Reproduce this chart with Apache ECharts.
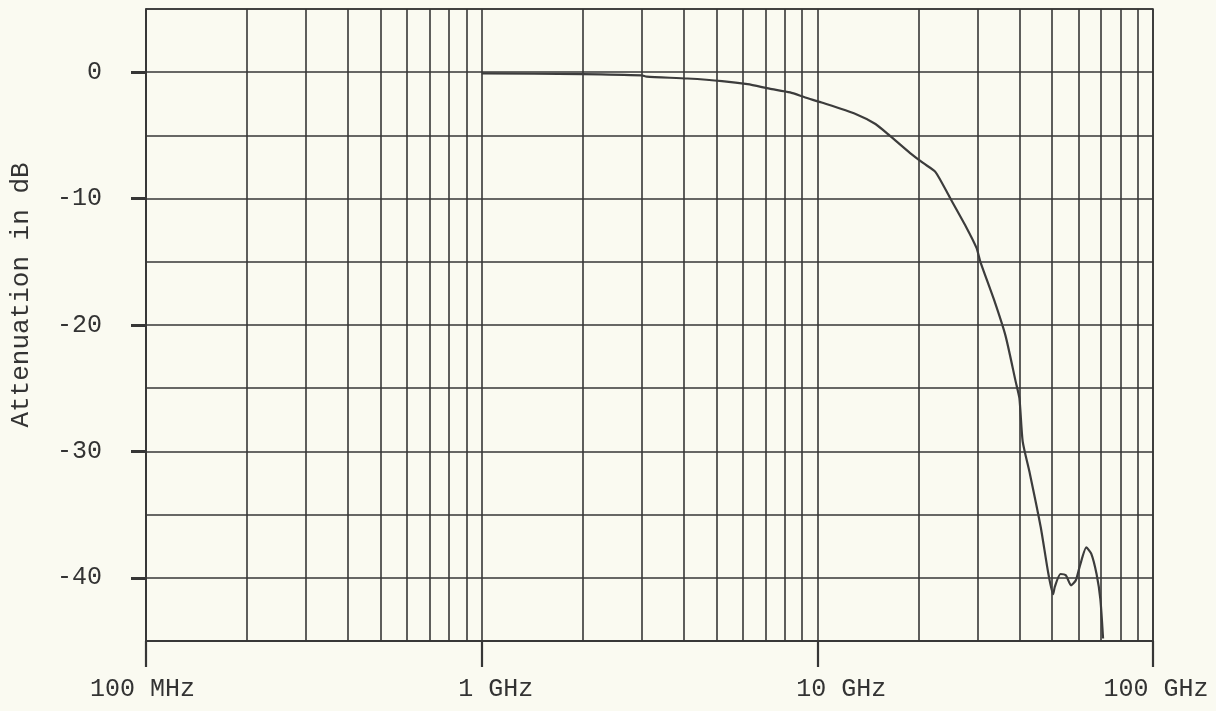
<!DOCTYPE html>
<html>
<head>
<meta charset="utf-8">
<script src="https://cdn.jsdelivr.net/npm/echarts@6/dist/echarts.min.js"></script>
<style>
html,body{margin:0;padding:0;background:#fafaf1;}
#chart{width:1216px;height:711px;}
</style>
</head>
<body>
<div id="chart"></div>
<script>
// ---- data (frequency in GHz, attenuation in dB) ----
const freqGHz = [1, 2, 3, 3.1, 4.1, 5.2, 6.2, 7.2, 8.3, 9.2, 10.3, 13.0, 14.9, 16.4, 18.9, 20.7, 22.5, 24.8, 27.7, 29.8, 30.6, 33.6, 36.4, 39.0, 40.0, 40.9, 43.0, 46.3, 48.8, 50.4, 51.0, 53, 55, 57, 58.9, 60.5, 63.3, 65.5, 67.9, 69.7, 71.0];
const attenDB = [-0.1, -0.15, -0.25, -0.35, -0.5, -0.7, -0.95, -1.3, -1.6, -2.0, -2.4, -3.3, -4.1, -5.0, -6.4, -7.2, -7.9, -9.9, -12.2, -13.9, -15.0, -18.0, -20.9, -24.5, -25.8, -29.2, -31.8, -36.0, -39.7, -41.3, -40.7, -39.7, -39.8, -40.6, -40.2, -39.1, -37.6, -38.1, -39.7, -41.7, -44.8];
const xMajor = [0.1, 1, 10, 100];
const xMajorLabels = ['100 MHz', '1 GHz', '10 GHz', '100 GHz'];
const xMinor = [0.2,0.3,0.4,0.5,0.6,0.7,0.8,0.9, 2,3,4,5,6,7,8,9, 20,30,40,50,60,70,80,90];
const yTicks = [0, -10, -20, -30, -40];
const yTitle = 'Attenuation in dB';

const ink = '#363636';
const font = 'Liberation Mono';
const labelRich = ['l0','l1','l2','l3'];

const chart = echarts.init(document.getElementById('chart'));
chart.setOption({
  backgroundColor: '#fafaf1',
  animation: false,
  grid: { left: 146, right: 63, top: 9, bottom: 70, containLabel: false, outerBoundsMode: 'none',
          show: true, borderColor: ink, borderWidth: 1.6, backgroundColor: 'transparent' },
  xAxis: [{
    type: 'log', logBase: 10, min: 0.1, max: 100, position: 'bottom',
    axisLine: { show: true, onZero: false, lineStyle: { color: ink, width: 1.6 } },
    axisTick: { show: true, customValues: xMajor, length: 26, lineStyle: { color: ink, width: 2.2 } },
    splitLine: { show: true, lineStyle: { color: ink, width: 1.6 } },
    axisLabel: {
      customValues: xMajor,
      margin: 36,
      color: '#333', fontFamily: font, fontSize: 25,
      formatter: function (v) {
        const i = xMajor.findIndex(m => Math.abs(m - v) / m < 1e-6);
        return i < 0 ? '' : '{' + labelRich[i] + '|' + xMajorLabels[i] + '}';
      },
      rich: {
        l0: { fontFamily: font, fontSize: 25, color: '#333', padding: [0, 7, 0, 0] },
        l1: { fontFamily: font, fontSize: 25, color: '#333', padding: [0, 0, 0, 28] },
        l2: { fontFamily: font, fontSize: 25, color: '#333', padding: [0, 0, 0, 48] },
        l3: { fontFamily: font, fontSize: 25, color: '#333', padding: [0, 0, 0, 6] }
      }
    }
  }, {
    type: 'log', logBase: 10, min: 0.1, max: 100, position: 'bottom',
    axisLine: { show: false, onZero: false },
    axisTick: { show: false, customValues: xMinor },
    axisLabel: { show: false },
    splitLine: { show: true, lineStyle: { color: ink, width: 1.6 } }
  }],
  yAxis: [{
    type: 'value', min: -45, max: 5, interval: 5, position: 'left',
    axisLine: { show: true, onZero: false, lineStyle: { color: ink, width: 1.6 } },
    axisTick: { show: true, customValues: yTicks, length: 15, lineStyle: { color: ink, width: 3 } },
    splitLine: { show: false },
    axisLabel: { customValues: yTicks, margin: 44, color: '#333', fontFamily: font, fontSize: 25 },
    name: yTitle, nameLocation: 'middle', nameGap: 112,
    nameTextStyle: { fontFamily: font, fontSize: 26, color: '#333', padding: [0, 0, 0, 60] }
  }, {
    type: 'value', min: -45, max: 5, interval: 5, position: 'left',
    axisLine: { show: false, onZero: false },
    axisTick: { show: false },
    splitLine: { show: true, lineStyle: { color: ink, width: 1.6 } },
    axisLabel: { show: false }
  }],
  series: [{
    type: 'line',
    xAxisIndex: 0, yAxisIndex: 0,
    data: freqGHz.map((f, i) => [f, attenDB[i]]),
    showSymbol: false,
    smooth: 0.2,
    lineStyle: { color: '#3c3c3c', width: 2.2 }
  }]
});
</script>
</body>
</html>
